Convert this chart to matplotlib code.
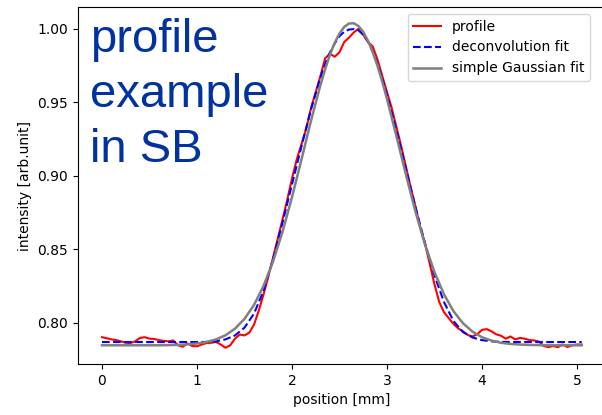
import matplotlib.pyplot as plt

# measured profile (x in mm, step 0.05)
profile_x = [round(0.05 * i, 2) for i in range(102)]
profile_y = [
    0.7900, 0.7893, 0.7885, 0.7880, 0.7872, 0.7862, 0.7860, 0.7872, 0.7895, 0.7900,
    0.7890, 0.7888, 0.7880, 0.7875, 0.7872, 0.7878, 0.7845, 0.7835, 0.7858, 0.7840,
    0.7838, 0.7850, 0.7860, 0.7862, 0.7868, 0.7850, 0.7828, 0.7845, 0.7890, 0.7918,
    0.7912, 0.7930, 0.7985, 0.8080, 0.8190, 0.8310, 0.8440, 0.8570, 0.8700, 0.8835,
    0.8980, 0.9110, 0.9215, 0.9320, 0.9460, 0.9570, 0.9680, 0.9800, 0.9830, 0.9810,
    0.9840, 0.9910, 0.9940, 0.9975, 1.0000, 0.9960, 0.9910, 0.9880, 0.9790, 0.9680,
    0.9570, 0.9460, 0.9330, 0.9200, 0.9060, 0.8920, 0.8790, 0.8650, 0.8540, 0.8400,
    0.8260, 0.8140, 0.8070, 0.8030, 0.7990, 0.7960, 0.7940, 0.7915, 0.7905, 0.7920,
    0.7950, 0.7955, 0.7940, 0.7920, 0.7910, 0.7890, 0.7905, 0.7885, 0.7895, 0.7890,
    0.7880, 0.7878, 0.7870, 0.7840, 0.7832, 0.7840, 0.7832, 0.7850, 0.7833, 0.7845,
    0.7850, 0.7850,
]

# fits (x in mm)
fit_x = [0.0, 0.1, 0.2, 0.3, 0.4, 0.5, 0.6, 0.7, 0.8, 0.9,
         1.0, 1.1, 1.2, 1.3, 1.4, 1.5, 1.6, 1.7, 1.8, 1.9,
         2.0, 2.1, 2.2, 2.3, 2.35, 2.4, 2.45, 2.5, 2.55, 2.6, 2.65,
         2.7, 2.75, 2.8, 2.85, 2.9, 2.95, 3.0, 3.1, 3.2, 3.3, 3.4,
         3.5, 3.6, 3.7, 3.8, 3.9, 4.0, 4.1, 4.2, 4.3, 4.4,
         4.5, 4.6, 4.7, 4.8, 4.9, 5.0, 5.05]
deconv_y = [0.7867, 0.7867, 0.7867, 0.7867, 0.7867, 0.7867, 0.7867, 0.7867, 0.7867, 0.7867,
            0.7867, 0.7868, 0.7872, 0.7885, 0.7912, 0.7965, 0.8060, 0.8215, 0.8430, 0.8680,
            0.8940, 0.9200, 0.9450, 0.9670, 0.9760, 0.9840, 0.9900, 0.9950, 0.9980, 0.9995, 0.9998,
            0.9990, 0.9960, 0.9915, 0.9845, 0.9760, 0.9660, 0.9550, 0.9305, 0.9045, 0.8785, 0.8540,
            0.8320, 0.8140, 0.8010, 0.7935, 0.7898, 0.7880, 0.7872, 0.7868, 0.7867, 0.7867,
            0.7867, 0.7867, 0.7867, 0.7867, 0.7867, 0.7867, 0.7867]
gauss_y = [0.7845, 0.7845, 0.7845, 0.7845, 0.7845, 0.7845, 0.7845, 0.7846, 0.7848, 0.7851,
           0.7857, 0.7867, 0.7885, 0.7913, 0.7958, 0.8025, 0.8119, 0.8248, 0.8414, 0.8617,
           0.8853, 0.9110, 0.9373, 0.9618, 0.9727, 0.9824, 0.9905, 0.9968, 1.0013, 1.0036, 1.0038,
           1.0019, 0.9979, 0.9919, 0.9841, 0.9748, 0.9641, 0.9523, 0.9268, 0.9006, 0.8755, 0.8531,
           0.8343, 0.8192, 0.8077, 0.7995, 0.7938, 0.7900, 0.7877, 0.7862, 0.7854, 0.7850,
           0.7847, 0.7846, 0.7845, 0.7845, 0.7845, 0.7845, 0.7845]

fig = plt.figure(figsize=(6.02, 4.15), dpi=100)
ax = fig.add_axes([78 / 602, 51 / 415, 527.7 / 602, 357 / 415])

ax.plot(profile_x, profile_y, color='red', lw=1.5, label='profile')
ax.plot(fit_x, deconv_y, '--', color='blue', lw=1.5, label='deconvolution fit')
ax.plot(fit_x, gauss_y, color='gray', lw=1.8, label='simple Gaussian fit')

ax.set_xlabel('position [mm]')
ax.set_ylabel('intensity [arb.unit]')
ax.set_yticks([0.80, 0.85, 0.90, 0.95, 1.00])
ax.legend(loc='upper right', bbox_to_anchor=(0.9835, 1.0))

fig.text(90 / 602, 1 - 18 / 415, 'profile\nexample\nin SB', color='#0033a0',
         fontsize=34, family='Liberation Sans', va='top', ha='left',
         linespacing=1.33)

fig.savefig('out.png', dpi=100)
